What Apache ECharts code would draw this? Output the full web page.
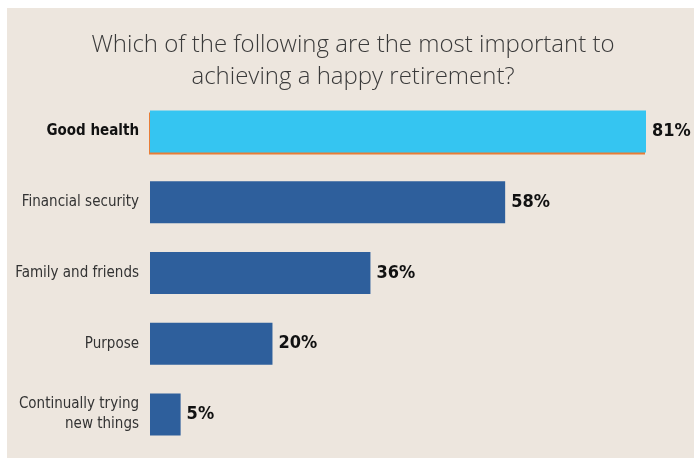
<!DOCTYPE html>
<html>
<head>
<meta charset="utf-8">
<script src="https://cdn.jsdelivr.net/npm/echarts@6/dist/echarts.min.js"></script>
<style>
  html, body { margin: 0; padding: 0; background: #ffffff; }
  #chart { width: 694px; height: 458px; }
</style>
</head>
<body>
<div id="chart"></div>
<script>
// Survey answers, top to bottom
const categories = ['Good health', 'Financial security', 'Family and friends', 'Purpose', 'Continually trying\nnew things'];
const shares = [81, 58, 36, 20, 5];
const highlighted = 'Good health';

const titleText = 'Which of the following are the most important to\nachieving a happy retirement?';

const chart = echarts.init(document.getElementById('chart'), null, { renderer: 'canvas' });

const labelFont = '"DejaVu Sans Condensed", "Liberation Sans Narrow", "Open Sans", sans-serif';

chart.setOption({
  backgroundColor: '#ffffff',
  animation: false,
  graphic: [{
    type: 'rect',
    z: -10,
    shape: { x: 7, y: 8, width: 700, height: 460 },
    style: { fill: '#ede6de' }
  }],
  title: {
    text: titleText,
    left: 348,
    textAlign: 'center',
    top: 24,
    textStyle: {
      fontFamily: '"Open Sans", sans-serif',
      fontWeight: 300,
      fontSize: 24,
      lineHeight: 32,
      color: '#3a3a3a',
      align: 'center'
    }
  },
  grid: { left: 150, right: 48, top: 96, bottom: 8, containLabel: false },
  xAxis: {
    type: 'value',
    min: 0,
    max: 81,
    show: false
  },
  yAxis: {
    type: 'category',
    inverse: true,
    data: categories,
    axisLine: { show: false },
    axisTick: { show: false },
    splitLine: { show: false },
    axisLabel: {
      margin: 11,
      fontFamily: labelFont,
      fontSize: 15,
      lineHeight: 20,
      color: '#333333',
      align: 'right',
      formatter: function (v) {
        return v === highlighted ? '{b|' + v + '}' : v;
      },
      rich: {
        b: { fontFamily: labelFont, fontSize: 15, fontWeight: 'bold', color: '#111111' }
      }
    }
  },
  series: [{
    type: 'bar',
    barWidth: 42,
    data: shares.map(function (v, i) {
      const isTop = categories[i] === highlighted;
      return {
        value: v,
        itemStyle: isTop ? {
          color: '#35c5f1',
          shadowColor: 'rgba(232,125,55,1)',
          shadowOffsetX: -1,
          shadowOffsetY: 2,
          shadowBlur: 0
        } : { color: '#2e5f9c' }
      };
    }),
    label: {
      show: true,
      position: 'right',
      distance: 6,
      formatter: '{c}%',
      fontFamily: labelFont,
      fontWeight: 'bold',
      fontSize: 18,
      color: '#111111'
    }
  }]
});
</script>
</body>
</html>
